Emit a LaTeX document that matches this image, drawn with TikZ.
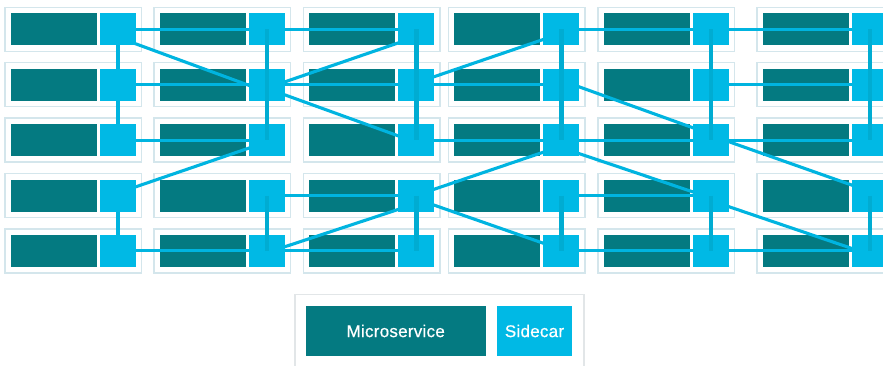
\documentclass[tikz,border=0pt]{standalone}
\usepackage{fontspec}
\setsansfont[LetterSpace=1.5,FakeBold=0.6]{Liberation Sans}
\usetikzlibrary{calc}
\definecolor{msteal}{RGB}{4,122,129}
\definecolor{sccyan}{RGB}{0,185,229}
\definecolor{lncyan}{RGB}{0,180,224}
\definecolor{vtcyan}{RGB}{0,172,210}
\definecolor{boxedge}{RGB}{212,230,236}
\definecolor{legedge}{RGB}{226,230,232}
\pgfdeclarelayer{bg}
\pgfdeclarelayer{mid}
\pgfdeclarelayer{top}
\pgfsetlayers{bg,mid,main,top}
\begin{document}
\begin{tikzpicture}[x=1pt,y=-1pt,
  podbox/.style={draw=boxedge,line width=1.3pt,fill=white,minimum width=136.7pt,minimum height=44pt,inner sep=0pt,outer sep=0pt},
  micro/.style={fill=msteal,minimum width=86pt,minimum height=32pt,inner sep=0pt,outer sep=0pt},
  sidecar/.style={fill=sccyan,minimum width=36pt,minimum height=32pt,inner sep=0pt,outer sep=0pt},
  link/.style={draw=lncyan,line width=3.1pt},
  vlink/.style={draw=lncyan,line width=4.8pt},
  vlinktop/.style={draw=vtcyan,line width=4.8pt},
  legbox/.style={draw=legedge,line width=1.3pt,fill=white,minimum width=289pt,minimum height=80pt,inner sep=0pt,anchor=north west},
  legtext/.style={text=white,font=\sffamily\fontsize{17}{20}\selectfont,minimum height=50pt,inner sep=0pt,outer sep=0pt}]
\useasboundingbox (0,0) rectangle (883,365);
\foreach \c/\X in {1/5,2/154,3/303.3,4/448.3,5/598,6/757}{
  \foreach \r in {1,...,5}{
    \pgfmathsetmacro\Y{7.3+55.4*(\r-1)}
    \begin{pgfonlayer}{bg}
      \node[podbox] (p-\r-\c) at (\X+68.35,\Y+22) {};
      \node[micro] (m-\r-\c) at (\X+49,\Y+22) {};
    \end{pgfonlayer}
    \node[sidecar] (s-\r-\c) at (\X+113,\Y+22) {};
  }
}
\begin{pgfonlayer}{mid}
  % horizontal links
  \foreach \r/\a/\b in {1/1/2,1/2/3,1/4/5,1/5/6,
                        2/1/2,2/2/3,2/3/4,2/5/6,
                        3/1/2,3/3/4,3/4/5,3/5/6,
                        4/2/3,4/4/5,
                        5/1/2,5/2/3,5/4/5,5/5/6}
    \draw[link] (s-\r-\a) -- (s-\r-\b);
  % diagonal links
  \foreach \ra/\ca/\da/\rb/\cb/\db in {1/1/8/2/2/7.3,
                                       2/2/3.3/1/3/7.4,
                                       2/2/3.7/3/3/2.3,
                                       2/3/-1.9/1/4/4,
                                       2/4/-4.3/3/5/-5.8,
                                       3/2/1.8/4/1/-2.6,
                                       3/4/6/4/3/-0.2,
                                       3/4/7.5/4/5/2.5,
                                       3/5/-4.7/4/6/-4,
                                       4/3/8/5/2/1.7,
                                       4/3/3.4/5/4/-1.4,
                                       4/5/5.1/5/6/3.7}
    \draw[link] ($(s-\ra-\ca.center)+(0,\da)$) -- ($(s-\rb-\cb.center)+(0,\db)$);
  % column 1 vertical links
  \draw[vlink] (s-1-1) -- (s-2-1);
  \draw[vlink] (s-2-1) -- (s-3-1);
  \draw[vlink] (s-4-1) -- (s-5-1);
\end{pgfonlayer}
\begin{pgfonlayer}{top}
  \foreach \c in {2,...,6}{
    \draw[vlinktop] (s-1-\c.center) -- (s-2-\c.center);
    \draw[vlinktop] (s-2-\c.center) -- (s-3-\c.center);
    \draw[vlinktop] (s-4-\c.center) -- (s-5-\c.center);
  }
\end{pgfonlayer}
% legend
\node[legbox] (legend) at (294.3,294) {};
\node[legtext,fill=msteal,minimum width=180pt] (legmicro) at (395.7,331) {Microservice};
\node[legtext,fill=sccyan,minimum width=75.6pt] (legside) at (534.5,331) {Sidecar};
\end{tikzpicture}
\end{document}
